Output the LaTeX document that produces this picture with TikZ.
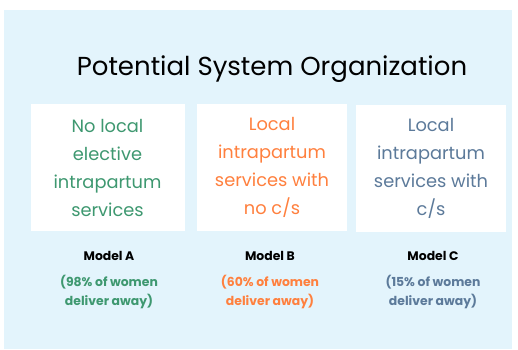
\documentclass[tikz,border=0pt]{standalone}
\usepackage{fontspec}
\setmainfont{Poppins}

\definecolor{panelblue}{RGB}{227,244,252}
\definecolor{modelgreen}{RGB}{62,152,112}
\definecolor{modelorange}{RGB}{255,128,62}
\definecolor{modelslate}{RGB}{92,122,154}

\begin{document}
\begin{tikzpicture}[
    x=1pt, y=-1pt,
    modelbox/.style={fill=white, minimum width=154pt, minimum height=127pt,
                     inner sep=0pt, align=center, font=\fontsize{17.8}{28}\selectfont},
    modelname/.style={font=\fontsize{12.4}{14}\selectfont\bfseries},
    shareline/.style={align=center, font=\fontsize{12.4}{19}\selectfont\bfseries}
]
    \useasboundingbox (0,0) rectangle (518,349);
    \fill[panelblue] (4,10) rectangle (512,349);

    \node[font=\fontsize{26}{32}\selectfont] (title) at (272,69)
        {Potential System Organization};

    \node[modelbox, text=modelgreen] (boxa) at (107.5,167.5)
        {No local\\elective\\intrapartum\\services};
    \node[modelbox, text=modelorange, minimum width=150pt] (boxb) at (272,167.5)
        {Local\\intrapartum\\services with\\no c/s};
    \node[modelbox, text=modelslate, minimum width=150pt] (boxc) at (431,168)
        {Local\\intrapartum\\services with\\c/s};

    \node[modelname] (namea) at (109,256) {Model A};
    \node[modelname] (nameb) at (270,256) {Model B};
    \node[modelname] (namec) at (433,256) {Model C};

    \node[shareline, text=modelgreen] (sharea) at (109,291.5)
        {(98\% of women\\deliver away)};
    \node[shareline, text=modelorange] (shareb) at (270,291.5)
        {(60\% of women\\deliver away)};
    \node[shareline, text=modelslate] (sharec) at (433,291.5)
        {(15\% of women\\deliver away)};

\end{tikzpicture}
\end{document}
